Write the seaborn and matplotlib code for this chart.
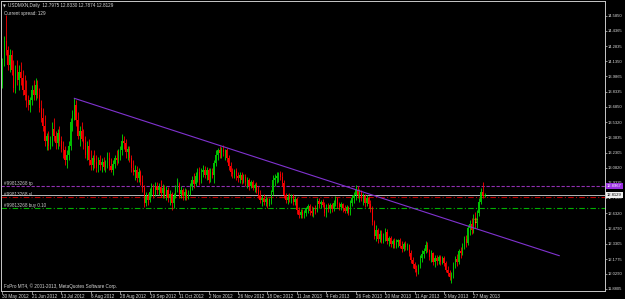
import numpy as np
import pandas as pd
import matplotlib
matplotlib.use("Agg")
import matplotlib.pyplot as plt
import seaborn as sns

# ---------------- data (USDMXN daily) ----------------
opens = [
    13.90, 14.13, 14.34, 14.25, 14.10, 14.20, 14.05, 13.87, 14.05, 13.95,
    14.03, 13.97, 13.85, 13.80, 13.75, 13.70, 13.75, 13.85, 13.80, 13.90,
    13.80, 13.67, 13.57, 13.50, 13.35, 13.40, 13.30, 13.35, 13.47, 13.40,
    13.33, 13.43, 13.35, 13.27, 13.26, 13.16, 13.21, 13.30, 13.53, 13.60,
    13.70, 13.55, 13.40, 13.45, 13.37, 13.33, 13.21, 13.30, 13.16, 13.11,
    13.18, 13.14, 13.08, 13.16, 13.11, 13.14, 13.09, 13.13, 13.18, 13.10,
    13.06, 13.12, 13.18, 13.16, 13.24, 13.26, 13.35, 13.33, 13.24, 13.27,
    13.18, 13.08, 13.04, 13.06, 12.98, 13.04, 12.94, 12.88, 12.73, 12.80,
    12.76, 12.84, 12.88, 12.82, 12.90, 12.86, 12.89, 12.83, 12.88, 12.81,
    12.86, 12.78, 12.82, 12.73, 12.80, 12.88, 12.92, 12.82, 12.86, 12.80,
    12.84, 12.79, 12.83, 12.90, 12.96, 12.92, 13.00, 13.04, 12.96, 13.04,
    13.06, 13.01, 13.06, 12.96, 13.04, 13.01, 13.13, 13.21, 13.26, 13.23,
    13.26, 13.24, 13.26, 13.18, 13.10, 13.04, 13.02, 13.05, 13.00, 12.98,
    13.01, 12.96, 12.99, 12.94, 12.96, 12.90, 12.94, 12.88, 12.91, 12.86,
    12.81, 12.76, 12.78, 12.74, 12.77, 12.72, 12.76, 12.84, 12.96, 12.98,
    13.00, 13.02, 12.99, 12.93, 12.81, 12.76, 12.79, 12.77, 12.80, 12.74,
    12.77, 12.66, 12.61, 12.64, 12.61, 12.63, 12.67, 12.70, 12.65, 12.63,
    12.67, 12.65, 12.75, 12.72, 12.74, 12.71, 12.63, 12.69, 12.67, 12.71,
    12.67, 12.73, 12.77, 12.72, 12.69, 12.72, 12.68, 12.65, 12.69, 12.63,
    12.73, 12.78, 12.81, 12.86, 12.81, 12.84, 12.78, 12.80, 12.73, 12.78,
    12.72, 12.68, 12.54, 12.41, 12.46, 12.38, 12.43, 12.37, 12.41, 12.45,
    12.36, 12.39, 12.33, 12.36, 12.32, 12.35, 12.37, 12.31, 12.28, 12.33,
    12.30, 12.32, 12.24, 12.17, 12.13, 12.08, 12.05, 12.11, 12.19, 12.23,
    12.26, 12.32, 12.27, 12.20, 12.24, 12.15, 12.19, 12.16, 12.20, 12.15,
    12.19, 12.14, 12.07, 12.04, 12.00, 12.02, 12.12, 12.18, 12.15, 12.26,
    12.24, 12.31, 12.38, 12.34, 12.48, 12.52, 12.46, 12.58, 12.51, 12.63,
    12.74, 12.84, 12.7975,
]
highs = [
    14.17, 14.39, 14.59, 14.29, 14.26, 14.25, 14.15, 14.10, 14.15, 14.10,
    14.13, 14.05, 14.00, 13.95, 13.80, 13.78, 13.90, 13.95, 13.97, 13.95,
    13.87, 13.75, 13.67, 13.60, 13.43, 13.45, 13.40, 13.53, 13.57, 13.45,
    13.47, 13.50, 13.40, 13.35, 13.30, 13.26, 13.35, 13.57, 13.65, 13.77,
    13.75, 13.63, 13.50, 13.53, 13.47, 13.40, 13.35, 13.37, 13.26, 13.21,
    13.26, 13.21, 13.19, 13.21, 13.18, 13.19, 13.16, 13.24, 13.24, 13.18,
    13.16, 13.21, 13.26, 13.27, 13.30, 13.42, 13.40, 13.37, 13.30, 13.30,
    13.21, 13.16, 13.11, 13.10, 13.08, 13.06, 13.01, 12.91, 12.84, 12.83,
    12.88, 12.93, 12.92, 12.94, 12.94, 12.93, 12.96, 12.92, 12.91, 12.90,
    12.89, 12.86, 12.84, 12.83, 12.91, 12.98, 12.94, 12.90, 12.88, 12.88,
    12.87, 12.86, 12.93, 13.00, 13.03, 13.04, 13.08, 13.09, 13.08, 13.11,
    13.10, 13.09, 13.08, 13.08, 13.08, 13.16, 13.26, 13.28, 13.30, 13.29,
    13.31, 13.27, 13.28, 13.21, 13.14, 13.08, 13.07, 13.08, 13.04, 13.04,
    13.04, 13.02, 13.02, 12.99, 12.98, 12.96, 12.96, 12.93, 12.94, 12.90,
    12.86, 12.81, 12.82, 12.80, 12.79, 12.78, 12.86, 13.01, 13.02, 13.04,
    13.04, 13.05, 13.04, 12.96, 12.83, 12.82, 12.83, 12.82, 12.82, 12.80,
    12.79, 12.69, 12.67, 12.67, 12.66, 12.69, 12.72, 12.72, 12.70, 12.69,
    12.71, 12.78, 12.78, 12.76, 12.77, 12.74, 12.72, 12.73, 12.73, 12.73,
    12.76, 12.80, 12.79, 12.74, 12.74, 12.73, 12.71, 12.71, 12.70, 12.76,
    12.81, 12.84, 12.91, 12.90, 12.87, 12.86, 12.83, 12.82, 12.81, 12.80,
    12.76, 12.70, 12.56, 12.51, 12.48, 12.46, 12.46, 12.44, 12.48, 12.47,
    12.41, 12.41, 12.38, 12.39, 12.38, 12.38, 12.39, 12.36, 12.35, 12.36,
    12.34, 12.33, 12.27, 12.20, 12.15, 12.12, 12.13, 12.22, 12.27, 12.29,
    12.36, 12.35, 12.28, 12.27, 12.25, 12.22, 12.22, 12.22, 12.22, 12.21,
    12.21, 12.16, 12.11, 12.07, 12.05, 12.15, 12.21, 12.23, 12.28, 12.30,
    12.34, 12.41, 12.42, 12.51, 12.56, 12.58, 12.62, 12.64, 12.66, 12.78,
    12.88, 12.94, 12.8330,
]
lows = [
    13.87, 14.09, 14.20, 14.05, 14.03, 14.00, 13.83, 13.82, 13.90, 13.85,
    13.90, 13.80, 13.75, 13.68, 13.65, 13.63, 13.70, 13.75, 13.75, 13.77,
    13.63, 13.53, 13.45, 13.30, 13.26, 13.26, 13.27, 13.30, 13.35, 13.27,
    13.27, 13.30, 13.24, 13.18, 13.11, 13.08, 13.16, 13.26, 13.45, 13.55,
    13.50, 13.37, 13.30, 13.35, 13.27, 13.18, 13.16, 13.11, 13.06, 13.06,
    13.08, 13.04, 13.04, 13.06, 13.04, 13.06, 13.04, 13.08, 13.06, 13.04,
    13.01, 13.08, 13.11, 13.13, 13.16, 13.21, 13.27, 13.18, 13.16, 13.14,
    13.04, 13.01, 12.96, 12.94, 12.94, 12.91, 12.84, 12.69, 12.70, 12.71,
    12.74, 12.80, 12.78, 12.80, 12.82, 12.81, 12.79, 12.78, 12.78, 12.76,
    12.74, 12.71, 12.66, 12.68, 12.78, 12.84, 12.78, 12.78, 12.76, 12.76,
    12.76, 12.77, 12.81, 12.86, 12.88, 12.90, 12.94, 12.91, 12.93, 12.99,
    12.98, 12.96, 12.93, 12.94, 12.98, 12.93, 13.10, 13.16, 13.18, 13.18,
    13.20, 13.16, 13.14, 13.06, 13.00, 12.98, 12.98, 12.96, 12.94, 12.93,
    12.92, 12.93, 12.90, 12.88, 12.86, 12.88, 12.86, 12.84, 12.83, 12.78,
    12.73, 12.70, 12.71, 12.70, 12.68, 12.70, 12.72, 12.81, 12.90, 12.93,
    12.94, 12.96, 12.90, 12.78, 12.73, 12.72, 12.74, 12.73, 12.71, 12.71,
    12.62, 12.58, 12.58, 12.58, 12.58, 12.60, 12.63, 12.61, 12.60, 12.59,
    12.62, 12.64, 12.68, 12.68, 12.69, 12.60, 12.59, 12.64, 12.63, 12.64,
    12.65, 12.70, 12.68, 12.66, 12.66, 12.64, 12.63, 12.63, 12.61, 12.61,
    12.70, 12.73, 12.76, 12.78, 12.74, 12.75, 12.71, 12.69, 12.70, 12.68,
    12.64, 12.51, 12.38, 12.36, 12.34, 12.35, 12.34, 12.34, 12.36, 12.33,
    12.31, 12.30, 12.29, 12.29, 12.29, 12.30, 12.29, 12.25, 12.26, 12.27,
    12.27, 12.21, 12.14, 12.09, 12.05, 12.01, 12.03, 12.09, 12.15, 12.19,
    12.24, 12.25, 12.17, 12.15, 12.12, 12.10, 12.12, 12.13, 12.12, 12.13,
    12.11, 12.05, 12.01, 11.97, 11.94, 11.99, 12.09, 12.11, 12.13, 12.19,
    12.22, 12.28, 12.30, 12.32, 12.42, 12.43, 12.44, 12.48, 12.48, 12.60,
    12.72, 12.78, 12.7874,
]
closes = [
    14.13, 14.34, 14.25, 14.10, 14.20, 14.05, 13.87, 14.05, 13.95, 14.03,
    13.97, 13.85, 13.80, 13.75, 13.70, 13.75, 13.85, 13.80, 13.90, 13.80,
    13.67, 13.57, 13.50, 13.35, 13.40, 13.30, 13.35, 13.47, 13.40, 13.33,
    13.43, 13.35, 13.27, 13.26, 13.16, 13.21, 13.30, 13.53, 13.60, 13.70,
    13.55, 13.40, 13.45, 13.37, 13.33, 13.21, 13.30, 13.16, 13.11, 13.18,
    13.14, 13.08, 13.16, 13.11, 13.14, 13.09, 13.13, 13.18, 13.10, 13.06,
    13.12, 13.18, 13.16, 13.24, 13.26, 13.35, 13.33, 13.24, 13.27, 13.18,
    13.08, 13.04, 13.06, 12.98, 13.04, 12.94, 12.88, 12.73, 12.80, 12.76,
    12.84, 12.88, 12.82, 12.90, 12.86, 12.89, 12.83, 12.88, 12.81, 12.86,
    12.78, 12.82, 12.73, 12.80, 12.88, 12.92, 12.82, 12.86, 12.80, 12.84,
    12.79, 12.83, 12.90, 12.96, 12.92, 13.00, 13.04, 12.96, 13.04, 13.06,
    13.01, 13.06, 12.96, 13.04, 13.01, 13.13, 13.21, 13.26, 13.23, 13.26,
    13.24, 13.26, 13.18, 13.10, 13.04, 13.02, 13.05, 13.00, 12.98, 13.01,
    12.96, 12.99, 12.94, 12.96, 12.90, 12.94, 12.88, 12.91, 12.86, 12.81,
    12.76, 12.78, 12.74, 12.77, 12.72, 12.76, 12.84, 12.96, 12.98, 13.00,
    13.02, 12.99, 12.93, 12.81, 12.76, 12.79, 12.77, 12.80, 12.74, 12.77,
    12.66, 12.61, 12.64, 12.61, 12.63, 12.67, 12.70, 12.65, 12.63, 12.67,
    12.65, 12.75, 12.72, 12.74, 12.71, 12.63, 12.69, 12.67, 12.71, 12.67,
    12.73, 12.77, 12.72, 12.69, 12.72, 12.68, 12.65, 12.69, 12.63, 12.73,
    12.78, 12.81, 12.86, 12.81, 12.84, 12.78, 12.80, 12.73, 12.78, 12.72,
    12.68, 12.54, 12.41, 12.46, 12.38, 12.43, 12.37, 12.41, 12.45, 12.36,
    12.39, 12.33, 12.36, 12.32, 12.35, 12.37, 12.31, 12.28, 12.33, 12.30,
    12.32, 12.24, 12.17, 12.13, 12.08, 12.05, 12.11, 12.19, 12.23, 12.26,
    12.32, 12.27, 12.20, 12.24, 12.15, 12.19, 12.16, 12.20, 12.15, 12.19,
    12.14, 12.07, 12.04, 12.00, 12.02, 12.12, 12.18, 12.15, 12.26, 12.24,
    12.31, 12.38, 12.34, 12.48, 12.52, 12.46, 12.58, 12.51, 12.63, 12.74,
    12.84, 12.80, 12.8129,
]

date_labels = ["30 May 2012", "21 Jun 2012", "13 Jul 2012", "6 Aug 2012",
               "28 Aug 2012", "19 Sep 2012", "11 Oct 2012", "2 Nov 2012",
               "26 Nov 2012", "18 Dec 2012", "11 Jan 2013", "4 Feb 2013",
               "26 Feb 2013", "20 Mar 2013", "11 Apr 2013", "3 May 2013",
               "27 May 2013"]
date_label_bars = [0, 16, 32, 48, 64, 80, 96, 112, 128, 144, 160, 176, 192,
                   208, 224, 240, 256]

price_ticks = [14.5850, 14.4365, 14.2835, 14.1350, 13.9865, 13.8335, 13.6850,
               13.5320, 13.3835, 13.2305, 13.0820, 12.9335, 12.7850, 12.6320,
               12.4790, 12.3305, 12.1775, 12.0290, 11.8805]

trend_bars = [39, 302.7]
trend_prices = [13.77, 12.21]

tp_level = 12.8967
bid_level = 12.8129
sl_level = 12.7890
buy_level = 12.6790
order_name = "#99813268"

arrow_bar = 257.4
arrow_price = 12.555

# ---------------- styling ----------------
sns.set_theme(style="dark")
plt.rcParams['font.family'] = ['Liberation Sans', 'DejaVu Sans']

BG = "black"
FG = "#d8d8d8"
FRAME = "#c8c8c8"
UP = "#00c000"
UP_W = "#00e000"
DN = "#ff0000"
FS = 3.3
FSY = 2.95

W, H = 625, 299
fig = plt.figure(figsize=(W / 100, H / 100), dpi=100, facecolor=BG)
left_px, right_px, top_px, bot_px = 1.5, 605.0, 1.0, 290.5
ax = fig.add_axes([left_px / W, 1 - bot_px / H,
                   (right_px - left_px) / W, (bot_px - top_px) / H])
ax.set_facecolor(BG)
ax.grid(False)

df = pd.DataFrame({"o": opens, "h": highs, "l": lows, "c": closes})
df["i"] = np.arange(len(df))
up = df[df.c >= df.o]
dn = df[df.c < df.o]

for part, body, wick in [(up, UP, UP_W), (dn, DN, DN)]:
    ax.vlines(part.i, part.l, part.h, color=wick, lw=0.6, zorder=3)
    hgt = (part.c - part.o).abs().clip(lower=0.004)
    ax.bar(part.i, hgt, bottom=np.minimum(part.o, part.c), width=0.6,
           color=body, lw=0, zorder=4)

# order / price level lines
ax.axhline(tp_level, color="#9030b0", lw=0.8, ls=(0, (3, 1.5)), zorder=2)
ax.axhline(bid_level, color="#b8b8b8", lw=0.7, zorder=2)
ax.axhline(sl_level, color="#c00000", lw=0.8, ls=(0, (5, 2, 1, 2)), zorder=2)
ax.axhline(buy_level, color="#00b000", lw=0.8, ls=(0, (5, 2, 1, 2)), zorder=2)

# trend line
tl = pd.DataFrame({"bar": trend_bars, "price": trend_prices})
sns.lineplot(data=tl, x="bar", y="price", ax=ax, color="#8033d0", lw=0.8,
             zorder=5, legend=False)

# level labels
xl = -0.5 + 3.0 / 1.84
for lvl, txt in [(tp_level, f"{order_name} tp"), (sl_level, f"{order_name} sl"),
                 (buy_level, f"{order_name} buy 0.10")]:
    ax.text(xl, lvl + 0.005, txt, fontsize=FS, color="#c8c8c8", ha="left",
            va="bottom", zorder=6)

# trade arrow
ax.text(arrow_bar, arrow_price, "\u21e7", fontsize=5, color="#e0e000",
        ha="center", va="center", zorder=7, family=["DejaVu Sans"])

# axes scale
ax.set_xlim(-0.5, -0.5 + (right_px - left_px) / 1.84)
ax.set_ylim(14.7435 - 0.009907 * bot_px, 14.7435 - 0.009907 * top_px)

for s in ax.spines.values():
    s.set_visible(True)
    s.set_color(FRAME)
    s.set_linewidth(0.7)

ax.set_yticks(price_ticks)
ax.set_yticklabels([f"{p:.4f}" for p in price_ticks])
ax.yaxis.tick_right()
ax.tick_params(axis="y", which="both", right=True, left=False, labelright=True,
               labelleft=False, length=1.5, width=0.5, color=FRAME,
               labelsize=FSY, labelcolor=FG, pad=0.6)
ax.set_xticks(date_label_bars)
ax.set_xticklabels(date_labels, ha="left")
ax.tick_params(axis="x", bottom=True, length=2, width=0.5, color=FRAME,
               labelsize=FS, labelcolor=FG, pad=0.5)
ax.set_xlabel("")
ax.set_ylabel("")

# price boxes on the right scale
ytr = ax.get_yaxis_transform()
ax.text(1.0035, tp_level, f"{tp_level:.4f}", transform=ytr, fontsize=FSY,
        color="white", ha="left", va="center", zorder=10, clip_on=False,
        bbox=dict(boxstyle="square,pad=0.25", fc="#9a30e0", ec="none"))
ax.text(1.0035, bid_level, f"{bid_level:.4f}", transform=ytr, fontsize=FSY,
        color="black", ha="left", va="center", zorder=10, clip_on=False,
        bbox=dict(boxstyle="square,pad=0.25", fc="#f0f0f0", ec="none"))

# header and footer texts
fig.text(3 / W, 1 - 6 / H, "\u25bc", fontsize=2.6, color=FG, va="center",
         family=["DejaVu Sans"])
fig.text(8 / W, 1 - 6 / H,
         f"USDMXN,Daily  {opens[-1]:.4f} {highs[-1]:.4f} {lows[-1]:.4f} {closes[-1]:.4f}",
         fontsize=FS, color=FG, va="center")
fig.text(3.5 / W, 1 - 13 / H, "Current spread: 129", fontsize=FS, color=FG,
         va="center")
fig.text(3.5 / W, 1 - 286 / H,
         "FxPro MT4, \u00a9 2001-2013, MetaQuotes Software Corp.",
         fontsize=FS, color=FG, va="center")

fig.savefig("out.png", dpi=100, facecolor=BG)
